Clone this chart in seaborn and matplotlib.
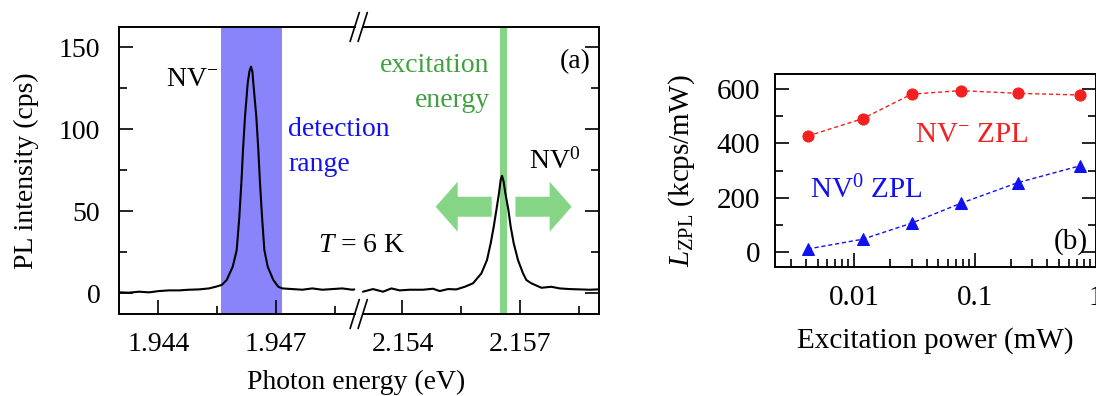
import numpy as np
import pandas as pd
import matplotlib
matplotlib.use("Agg")
import matplotlib.pyplot as plt
from matplotlib.lines import Line2D
from matplotlib.patches import FancyArrow
from matplotlib.ticker import FixedLocator, FixedFormatter, LogLocator, NullFormatter
import seaborn as sns

# ---------------- data ----------------
# (a) PL spectrum, NV- segment
nvm_energy = [1.943000, 1.943254, 1.943509, 1.943763, 1.944018, 1.944272, 1.944527,
              1.944781, 1.945036, 1.945290, 1.945460, 1.945613, 1.945740, 1.945893,
              1.945995, 1.946062, 1.946113, 1.946155, 1.946206, 1.946274, 1.946320,
              1.946359, 1.946395, 1.946418, 1.946494, 1.946545, 1.946588, 1.946639,
              1.946698, 1.946784, 1.946927, 1.947053, 1.947156, 1.947410, 1.947664,
              1.947919, 1.948173, 1.948428, 1.948682, 1.948937, 1.948987]
nvm_intensity = [0.6, 0.4, 1.0, 0.6, 1.4, 1.8, 1.8,
                 2.2, 2.4, 3.0, 4.0, 5.1, 8.1, 16.2,
                 26.4, 46.7, 67.1, 87.4, 107.7, 128.0, 135.5,
                 138.2, 135.0, 128.0, 107.7, 87.4, 67.1, 46.7,
                 26.4, 16.2, 8.1, 4.0, 3.0, 2.6, 2.2,
                 3.0, 2.2, 2.6, 3.0, 2.2, 2.4]
# (a) PL spectrum, NV0 segment
nv0_energy = [2.152995, 2.153249, 2.153504, 2.153718, 2.153929, 2.154183, 2.154522,
              2.154776, 2.154947, 2.155158, 2.155372, 2.155583, 2.155794, 2.156008,
              2.156150, 2.156244, 2.156321, 2.156389, 2.156455, 2.156500, 2.156532,
              2.156570, 2.156618, 2.156695, 2.156753, 2.156830, 2.156939, 2.157066,
              2.157153, 2.157280, 2.157534, 2.157789, 2.158000, 2.158254, 2.158509,
              2.158763, 2.158975]
nv0_intensity = [1.0, 2.6, 1.0, 3.0, 1.8, 2.2, 2.2,
                 2.8, 1.4, 2.6, 2.4, 4.0, 6.1, 12.2,
                 20.3, 30.5, 40.6, 50.8, 61.0, 69.5, 71.7,
                 68.5, 61.0, 50.8, 40.6, 30.5, 20.3, 12.2,
                 8.1, 6.1, 3.4, 4.0, 3.0, 2.6, 2.4,
                 2.2, 2.4]

detection_range = (1.945602, 1.947140)
excitation_range = (2.156470, 2.156670)

ylim_a = (-12.6, 162.4)
xlim_left = (1.943, 1.949081)
xlim_right = (2.152868, 2.159)
yticks_a = [0, 50, 100, 150]
yminor_a = [25, 75, 125]
xticks_left = [1.944, 1.947]
xticklabels_left = ["1.944", "1.947"]
xminor_left = [1.9455, 1.9485]
xticks_right = [2.154, 2.157]
xticklabels_right = ["2.154", "2.157"]
xminor_right = [2.1555, 2.1585]

# (b) power dependence
power_mw = [0.00414, 0.0118, 0.0300, 0.0766, 0.228, 0.748]
zpl_nv_minus = [427, 491, 581, 594, 584, 578]
zpl_nv_zero = [12, 48, 107, 180, 256, 318]
xticks_b = [0.01, 0.1, 1]
xticklabels_b = ["0.01", "0.1", "1"]
yticks_b = [0, 200, 400, 600]
yminor_b = [100, 300, 500]

# ---------------- style ----------------
sns.set_theme(style="ticks")
plt.rcParams["font.family"] = ["Liberation Serif", "DejaVu Serif"]
plt.rcParams["mathtext.fontset"] = "custom"
plt.rcParams["mathtext.rm"] = "Liberation Serif"
plt.rcParams["mathtext.it"] = "Liberation Serif:italic"
plt.rcParams["mathtext.bf"] = "Liberation Serif:bold"
plt.rcParams["axes.linewidth"] = 1.4
plt.rcParams["axes.edgecolor"] = "black"
for key in ("text.color", "axes.labelcolor", "xtick.color", "ytick.color"):
    plt.rcParams[key] = "black"

W, H = 1096, 396
fig = plt.figure(figsize=(W / 100, H / 100), dpi=100)

def px_axes(x0, x1, ytop, ybot):
    return [x0 / W, 1 - ybot / H, (x1 - x0) / W, (ybot - ytop) / H]

ax1 = fig.add_axes(px_axes(119, 358, 27, 314))
ax2 = fig.add_axes(px_axes(358, 599, 27, 314))
ax3 = fig.add_axes(px_axes(775, 1095.5, 74.3, 266.7))
ax1.patch.set_visible(False)
ax2.patch.set_visible(False)
ax1.set_zorder(2)
ax2.set_zorder(1)

BLUE_BAND = "#8a84fb"
GREEN_BAND = "#86d586"
GREEN_TEXT = "#3fa03f"
BLUE_TEXT = "#1212f0"
RED = "#f42020"
BLUE = "#1010f0"
FS = 20

# ---- panel (a) ----
ax1.axvspan(*detection_range, color=BLUE_BAND, lw=0, zorder=0)
ax2.axvspan(*excitation_range, color=GREEN_BAND, lw=0, zorder=0)

dfm = pd.DataFrame({"E": nvm_energy, "I": nvm_intensity})
df0 = pd.DataFrame({"E": nv0_energy, "I": nv0_intensity})
sns.lineplot(data=dfm, x="E", y="I", ax=ax1, color="black", lw=1.5,
             estimator=None, sort=False, zorder=3)
sns.lineplot(data=df0, x="E", y="I", ax=ax2, color="black", lw=1.5,
             estimator=None, sort=False, zorder=3)

for ax, xl in ((ax1, xlim_left), (ax2, xlim_right)):
    ax.set_xlim(*xl)
    ax.set_ylim(*ylim_a)
    ax.set_xlabel("")
    ax.set_ylabel("")
    ax.yaxis.set_major_locator(FixedLocator(yticks_a))
    ax.yaxis.set_minor_locator(FixedLocator(yminor_a))
    ax.tick_params(which="both", direction="in", width=1.2, labelsize=FS)
    ax.tick_params(which="major", length=10)
    ax.tick_params(which="minor", length=5.5)
    ax.tick_params(axis="x", pad=13)
    ax.tick_params(axis="y", pad=13.5)

ax1.xaxis.set_major_locator(FixedLocator(xticks_left))
ax1.xaxis.set_major_formatter(FixedFormatter(xticklabels_left))
ax1.xaxis.set_minor_locator(FixedLocator(xminor_left))
ax2.xaxis.set_major_locator(FixedLocator(xticks_right))
ax2.xaxis.set_major_formatter(FixedFormatter(xticklabels_right))
ax2.xaxis.set_minor_locator(FixedLocator(xminor_right))

ax1.spines["right"].set_visible(False)
ax2.spines["left"].set_visible(False)
ax1.tick_params(axis="y", which="both", left=True, right=False, labelleft=True)
ax2.tick_params(axis="y", which="both", left=False, right=True,
                labelleft=False, labelright=False)
ax1.set_yticklabels([str(v) for v in yticks_a])

# spine gaps at the break
ax1.spines["top"].set_bounds(xlim_left[0], 1.948997)
ax1.spines["bottom"].set_bounds(xlim_left[0], 1.948997)
ax2.spines["top"].set_bounds(2.152988, xlim_right[1])
ax2.spines["bottom"].set_bounds(2.152988, xlim_right[1])

# break marks (figure pixels)
def fig_line(x0, y0, x1, y1):
    fig.add_artist(Line2D([x0 / W, x1 / W], [1 - y0 / H, 1 - y1 / H],
                          transform=fig.transFigure, color="black", lw=1.2))

for yc in (27, 314):
    for xc in (354.7, 362.7):
        fig_line(xc - 4.6, yc + 14.5, xc + 4.6, yc - 14.5)

ax1.set_ylabel("PL intensity (cps)", fontsize=FS, labelpad=14)
fig.text(356 / W, 1 - 389 / H, "Photon energy (eV)", fontsize=FS,
         ha="center", va="baseline")

# annotations (a)
ax1.text(1.944196, 126.4, r"NV$^{-}$", fontsize=FS, ha="left", va="baseline")
ax1.text(1.947308, 95.9, "detection", fontsize=FS, color=BLUE_TEXT,
         ha="left", va="baseline", clip_on=False)
ax1.text(1.947308, 74.8, "range", fontsize=FS, color=BLUE_TEXT,
         ha="left", va="baseline", clip_on=False)
ax1.text(1.948071, 25.4, r"$T$ = 6 K", fontsize=FS, ha="left", va="baseline",
         clip_on=False)
ax2.text(2.156219, 135.1, "excitation", fontsize=FS, color=GREEN_TEXT,
         ha="right", va="baseline")
ax2.text(2.156219, 113.8, "energy", fontsize=FS, color=GREEN_TEXT,
         ha="right", va="baseline")
ax2.text(2.158781, 137.2, "(a)", fontsize=FS, ha="right", va="baseline")
ax2.text(2.157211, 76.2, r"NV$^{0}$", fontsize=FS, ha="left", va="baseline")

# green arrows
arrow_y = 52.8
for x_start, x_end in ((2.156270, 2.154844), (2.156873, 2.158305)):
    ax2.add_patch(FancyArrow(x_start, arrow_y, x_end - x_start, 0,
                             width=12.2, head_width=30.5, head_length=0.00056,
                             length_includes_head=True, color=GREEN_BAND,
                             lw=0, zorder=2))

# ---- panel (b) ----
dfb = pd.DataFrame({"P": power_mw, "m": zpl_nv_minus, "z": zpl_nv_zero})
sns.lineplot(data=dfb, x="P", y="m", ax=ax3, color=RED, lw=1.0,
             marker="o", markersize=8, markeredgecolor=RED, estimator=None,
             sort=False)
ax3.lines[-1].set_linestyle((0, (3, 2)))
sns.lineplot(data=dfb, x="P", y="z", ax=ax3, color=BLUE, lw=1.0,
             marker="^", markersize=8.5, markeredgecolor=BLUE, estimator=None,
             sort=False)
ax3.lines[-1].set_linestyle((0, (3, 2)))
ax3.set_xscale("log")
ax3.set_xlim(0.00222, 1.0)
ax3.set_ylim(-53, 654)
ax3.xaxis.set_major_locator(FixedLocator(xticks_b))
ax3.xaxis.set_major_formatter(FixedFormatter(xticklabels_b))
ax3.xaxis.set_minor_locator(LogLocator(base=10, subs=np.arange(2, 10)))
ax3.xaxis.set_minor_formatter(NullFormatter())
ax3.yaxis.set_major_locator(FixedLocator(yticks_b))
ax3.yaxis.set_minor_locator(FixedLocator(yminor_b))
ax3.tick_params(which="both", direction="in", width=1.2, labelsize=21,
                right=True)
ax3.tick_params(which="major", length=10)
ax3.tick_params(which="minor", length=5.5)
ax3.tick_params(axis="x", pad=13.5)
ax3.tick_params(axis="y", pad=10.5)
ax3.set_xlabel("Excitation power (mW)", fontsize=21, labelpad=11)
ax3.set_ylabel(r"$L_\mathrm{ZPL}$ (kcps/mW)", fontsize=21, labelpad=14)

ax3.text(0.0319, 406.3, r"NV$^{-}$ ZPL", fontsize=21, color=RED,
         ha="left", va="baseline")
ax3.text(0.00433, 198.4, r"NV$^{0}$ ZPL", fontsize=21, color=BLUE,
         ha="left", va="baseline")
ax3.text(0.864, 14.7, "(b)", fontsize=21, ha="right", va="baseline")

fig.savefig("out.png", dpi=100)
